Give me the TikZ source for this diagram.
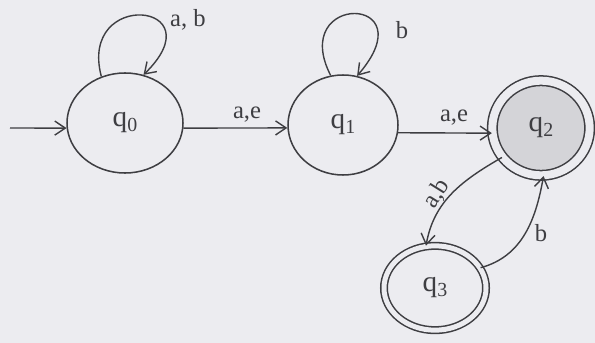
\documentclass[tikz,border=0pt]{standalone}
\usepackage{fontspec}
\setmainfont{Liberation Serif}
\usetikzlibrary{arrows.meta,shapes.geometric}
\definecolor{bg}{RGB}{236,236,240}
\definecolor{ink}{RGB}{62,62,66}
\definecolor{shade}{RGB}{212,212,216}
\newcommand\stname[2]{{\fontsize{25}{25}\selectfont #1\raisebox{-4pt}{\fontsize{17}{17}\selectfont #2}}}
\begin{document}
\begin{tikzpicture}[x=0.03cm,y=-0.03cm,
  state/.style={ellipse,draw=ink,line width=1.3pt,inner sep=0pt,text=ink},
  edge/.style={draw=ink,line width=1.2pt,-{Straight Barb[length=9pt,width=12pt]}},
  lbl/.style={text=ink,font=\fontsize{21}{21}\selectfont,inner sep=0pt}]
\fill[bg] (0,0) rectangle (595,343);
\useasboundingbox (0,0) rectangle (595,343);
\node[state,minimum width=3.48cm,minimum height=3.0cm] (q0) at (125,123) {\stname{q}{0}};
\node[state,minimum width=3.3cm,minimum height=3.0cm] (q1) at (343,125) {\stname{q}{1}};
\node[state,double=bg,double distance=0.24cm,fill=shade,minimum width=2.92cm,minimum height=2.84cm] (q2) at (541,128) {\stname{q}{2}};
\node[state,double=bg,double distance=0.15cm,minimum width=3.06cm,minimum height=2.53cm] (q3) at (435,288) {\stname{q}{3}};
\coordinate (s) at (10,128);
\draw[edge] (s) -- (q0.185);
\draw[edge] (q0.355) -- (q1.183);
\draw[edge] (q1.352) -- (q2.186);
\draw[edge] (q0.117) .. controls (78,-12) and (218,2) .. (q0.69);
\draw[edge] (q1.104) .. controls (288,-8) and (428,-6) .. (q1.74);
\draw[edge] (q2.217) to[out=210,in=80] (q3.102);
\draw[edge] (q3.24) to[out=15,in=260] (q2.273);
\node[lbl] (l1) at (188,20) {a, b};
\node[lbl] (l2) at (402,30) {b};
\node[lbl] (l3) at (247,115) {a,e};
\node[lbl] (l4) at (454,118) {a,e};
\node[lbl,rotate=58] (l5) at (437,194) {a,b};
\node[lbl] (l6) at (541,233) {b};
\end{tikzpicture}
\end{document}
